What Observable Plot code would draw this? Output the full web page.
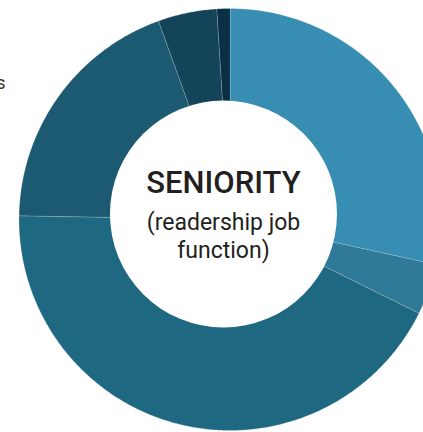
<!DOCTYPE html>
<html>
<head>
<meta charset="utf-8">
<script src="https://cdn.jsdelivr.net/npm/d3@7"></script>
<script src="https://cdn.jsdelivr.net/npm/@observablehq/plot@0.6"></script>
<style>
  html, body { margin: 0; padding: 0; background: #fff; overflow: hidden; }
  #chart svg { display: block; }
</style>
</head>
<body>
<div id="chart"></div>
<script>
// ---- data ----
const categories = ["Segment 1", "Segment 2", "Segment 3", "Segment 4", "Segment 5", "Segment 6"];
const shares = [28.4, 3.9, 42.9, 19.2, 4.5, 1.0];
const colors = ["#378db2", "#2e7a98", "#1f6882", "#1c5a71", "#134459", "#0a3045"];
const titleText = "SENIORITY";
const subtitleLines = ["(readership job", "function)"];
const cutLabel = ["s"];

// ---- layout ----
const W = 423, H = 432;
const cx = 229.5, cy = 219, R = 211;       // outer circle in pixels
const holeOffset = {u: -0.031, v: 0.026};   // hole centre, in radius units
const holeR = 113.5;

// wedge outlines in radius units (angle clockwise from 12 o'clock)
const total = d3.sum(shares);
let acc = 0;
const pts = [];
categories.forEach((c, i) => {
  const a0 = acc / total * 2 * Math.PI;
  acc += shares[i];
  const a1 = acc / total * 2 * Math.PI;
  pts.push({cat: c, u: 0, v: 0});
  const n = Math.max(2, Math.ceil((a1 - a0) / (Math.PI / 360)));
  for (let k = 0; k <= n; k++) {
    const a = a0 + (a1 - a0) * k / n;
    pts.push({cat: c, u: Math.sin(a), v: Math.cos(a)});
  }
});

const chart = Plot.plot({
  width: W,
  height: H,
  margin: 0,
  x: {domain: [-cx / R, (W - cx) / R], range: [0, W], axis: null},
  y: {domain: [(cy - H) / R, cy / R], range: [H, 0], axis: null},
  color: {domain: categories, range: colors},
  style: {background: "#fff", overflow: "hidden"},
  marks: [
    Plot.line(pts, {
      x: "u", y: "v", z: "cat", fill: "cat",
      stroke: "#ffffff", strokeOpacity: 0.25, strokeWidth: 0.8,
      curve: "linear-closed", clip: true
    }),
    Plot.dot([holeOffset], {x: "u", y: "v", r: holeR, fill: "#ffffff", stroke: null}),
    Plot.text([titleText], {
      x: () => holeOffset.u, y: () => holeOffset.v, text: d => d,
      dy: -31, fontSize: 31, fontWeight: 500, fontFamily: "Roboto", fill: "#231f20"
    }),
    Plot.text([subtitleLines[0]], {
      x: () => holeOffset.u, y: () => holeOffset.v, text: d => d,
      dy: 9, fontSize: 23, fontFamily: "Roboto", fill: "#231f20"
    }),
    Plot.text([subtitleLines[1]], {
      x: () => holeOffset.u, y: () => holeOffset.v, text: d => d,
      dy: 37, fontSize: 23, fontFamily: "Roboto", fill: "#231f20"
    }),
    Plot.text(cutLabel, {
      frameAnchor: "top-left", text: d => d, textAnchor: "end",
      dx: 5, dy: 76, fontSize: 18, fontFamily: "Roboto", fill: "#333"
    })
  ]
});
document.getElementById("chart").appendChild(chart);
</script>
</body>
</html>
